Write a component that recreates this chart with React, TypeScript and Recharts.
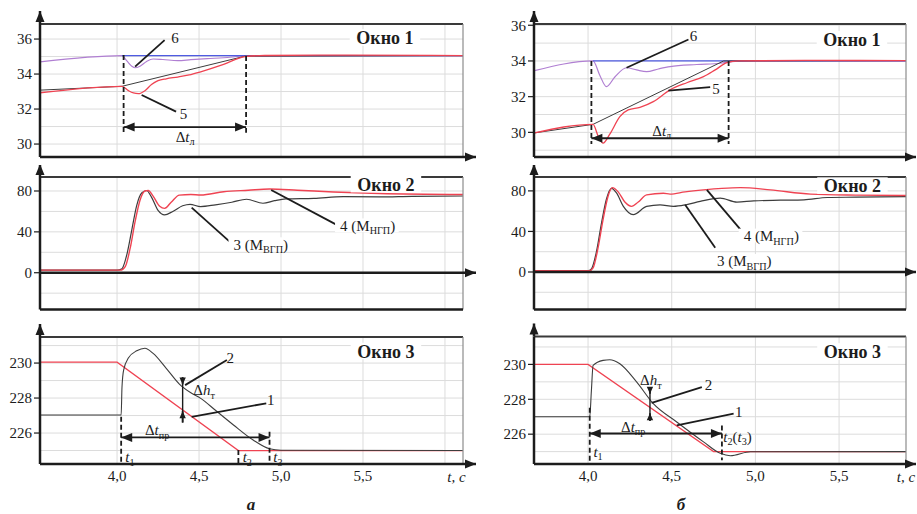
import React from "react";
import { CartesianGrid, Line, LineChart, ReferenceLine, XAxis, YAxis } from "recharts";

type Pt = [number, number];
type Part = { s: string; i?: boolean; sub?: boolean };

const SERIF = '"Liberation Serif", "DejaVu Serif", serif';
const INK = "#1c1c1c";
const RED = "#ef4352";
const DARK = "#3d3d3d";
const PURPLE = "#b07fd2";
const BLUE = "#4f5be2";

// tick labels and grid values
const timeTicks = [4, 4.5, 5, 5.5];
const gridTimeA = [4, 4.5, 5, 5.5, 6];
const gridTimeB = [4, 4.5, 5, 5.5];
const ticksWin1 = [30, 32, 34, 36];
const ticksWin2 = [0, 40, 80];
const ticksWin3 = [226, 228, 230];
const gridWin1A = [30, 31, 32, 33, 34, 35, 36];
const gridWin1B = [29, 30, 31, 32, 33, 34, 35, 36];
const gridWin2 = [-20, 0, 20, 40, 60, 80];
const gridWin3 = [225, 226, 227, 228, 229, 230, 231];

// ---- а : Окно 1 ----
const a1Purple: Pt[] = [[3.53, 34.69], [4.03, 35.05], [4.06, 34.75], [4.09, 34.45], [4.11, 34.36], [4.14, 34.45], [4.18, 34.72], [4.22, 34.86], [4.28, 34.83], [4.37, 34.77], [4.45, 34.82], [4.55, 34.88], [4.65, 34.93], [4.79, 35.03], [5.2, 35.05], [6.11, 35.05]];
const a1Blue: Pt[] = [[4.03, 35.05], [6.11, 35.05]];
const a1Black: Pt[] = [[3.53, 33.08], [4.03, 33.3], [4.78, 35.02], [6.11, 35.05]];
const a1Red: Pt[] = [[3.53, 32.93], [4.03, 33.3], [4.07, 33.05], [4.1, 32.92], [4.13, 32.88], [4.17, 33.05], [4.21, 33.4], [4.25, 33.62], [4.3, 33.73], [4.37, 33.83], [4.44, 33.95], [4.51, 34.13], [4.65, 34.55], [4.78, 35.0], [4.9, 35.06], [5.4, 35.08], [6.11, 35.05]];

// ---- а : Окно 2 ----
const a2Black: Pt[] = [[3.53, 2.5], [4.0, 2.5], [4.03, 4], [4.06, 18], [4.09, 42], [4.12, 66], [4.15, 78], [4.18, 80.5], [4.21, 74], [4.25, 61], [4.29, 56.6], [4.34, 60], [4.4, 65.5], [4.445, 67], [4.51, 64.7], [4.6, 66.5], [4.7, 69], [4.79, 71.9], [4.89, 68], [4.96, 70.5], [5.03, 72.2], [5.2, 72.8], [5.38, 74.4], [5.6, 74.2], [5.8, 74.8], [6.11, 75.1]];
const a2Red: Pt[] = [[3.53, 2.5], [4.02, 2.5], [4.05, 6], [4.08, 24], [4.11, 50], [4.14, 71], [4.17, 80], [4.19, 80.5], [4.22, 75], [4.26, 65], [4.29, 63], [4.33, 69], [4.38, 76], [4.45, 76.5], [4.51, 76.1], [4.65, 79.3], [4.8, 80.8], [4.93, 82], [5.1, 80.8], [5.32, 79], [5.6, 77.5], [6.11, 76.5]];

// ---- а : Окно 3 ----
const a3Red: Pt[] = [[3.53, 230.05], [4.0, 230.05], [4.74, 225.0], [6.11, 225.0]];
const a3Black: Pt[] = [[3.53, 227.03], [4.025, 227.03], [4.03, 228.6], [4.04, 229.6], [4.07, 230.3], [4.12, 230.7], [4.17, 230.85], [4.22, 230.55], [4.3, 229.7], [4.38, 228.8], [4.45, 228.3], [4.51, 227.98], [4.6, 227.3], [4.71, 226.46], [4.83, 225.6], [4.93, 225.1], [5.0, 225.02], [6.11, 225.0]];

// ---- б : Окно 1 ----
const b1Purple: Pt[] = [[3.68, 33.46], [4.03, 34.0], [4.07, 33.2], [4.11, 32.56], [4.16, 33.1], [4.23, 33.62], [4.29, 33.5], [4.35, 33.4], [4.42, 33.55], [4.49, 33.68], [4.65, 33.8], [4.79, 33.87], [4.88, 33.98], [5.0, 34.0], [5.9, 34.0]];
const b1Blue: Pt[] = [[4.03, 34.0], [5.9, 34.0]];
const b1Black: Pt[] = [[3.68, 29.97], [4.03, 30.45], [4.81, 34.0], [5.9, 34.02]];
const b1Red: Pt[] = [[3.68, 29.97], [4.03, 30.45], [4.06, 29.8], [4.09, 29.4], [4.13, 29.9], [4.19, 30.88], [4.24, 31.26], [4.31, 31.4], [4.39, 31.72], [4.49, 32.38], [4.59, 32.78], [4.69, 33.12], [4.76, 33.5], [4.83, 33.9], [4.9, 34.0], [5.3, 34.03], [5.9, 34.02]];

// ---- б : Окно 2 ----
const b2Black: Pt[] = [[3.68, 1.3], [4.0, 1.3], [4.02, 3], [4.05, 20], [4.08, 48], [4.11, 72], [4.14, 82.5], [4.17, 78], [4.21, 65], [4.27, 56.6], [4.35, 64.7], [4.43, 66.3], [4.51, 64.7], [4.59, 66.5], [4.67, 69.6], [4.79, 72.9], [4.89, 69], [4.99, 70.2], [5.15, 70.8], [5.29, 71.2], [5.43, 73.5], [5.6, 73.8], [5.9, 74.4]];
const b2Red: Pt[] = [[3.68, 1.3], [4.01, 1.3], [4.03, 4], [4.06, 24], [4.09, 52], [4.12, 75], [4.145, 83.2], [4.18, 79], [4.22, 69], [4.26, 64.7], [4.3, 69], [4.35, 76.1], [4.45, 77.7], [4.49, 76.8], [4.58, 79], [4.69, 81], [4.8, 82.5], [4.91, 83.2], [5.09, 81], [5.33, 76.8], [5.6, 75.8], [5.9, 75.4]];

// ---- б : Окно 3 ----
const b3Red: Pt[] = [[3.68, 230.0], [4.0, 230.0], [4.75, 225.0], [5.9, 225.0]];
const b3Black: Pt[] = [[3.68, 227.0], [4.01, 227.0], [4.02, 228.5], [4.03, 229.94], [4.09, 230.23], [4.13, 230.27], [4.19, 230.04], [4.29, 229.0], [4.39, 227.75], [4.53, 226.7], [4.69, 225.56], [4.79, 224.9], [4.85, 224.76], [4.97, 224.99], [5.9, 225.0]];

// label texts
const dtL: Part[] = [{ s: "Δ" }, { s: "t", i: true }, { s: "л", sub: true }];
const dtPr: Part[] = [{ s: "Δ" }, { s: "t", i: true }, { s: "пр", sub: true }];
const dhT: Part[] = [{ s: "Δ" }, { s: "h", i: true }, { s: "т", sub: true }];
const mV: Part[] = [{ s: "3 (M" }, { s: "ВГП", sub: true }, { s: ")" }];
const mN: Part[] = [{ s: "4 (M" }, { s: "НГП", sub: true }, { s: ")" }];
const t1: Part[] = [{ s: "t", i: true }, { s: "1", sub: true }];
const t2: Part[] = [{ s: "t", i: true }, { s: "2", sub: true }];
const t3: Part[] = [{ s: "t", i: true }, { s: "3", sub: true }];
const t2t3: Part[] = [{ s: "t", i: true }, { s: "2", sub: true }, { s: "(" }, { s: "t", i: true }, { s: "3", sub: true }, { s: ")" }];
const tUnit: Part[] = [{ s: "t, c", i: true }];
const plain = (s: string): Part[] => [{ s }];

type Note =
  | { kind: "line"; a: Pt; b: Pt; dash?: boolean; heads?: "a" | "b" | "ab"; w?: number; small?: boolean }
  | { kind: "text"; at: Pt; parts: Part[]; anchor?: "start" | "middle"; box?: boolean; bold?: boolean; size?: number; dy?: number };

const notes1a: Note[] = [
  { kind: "line", a: [4.29, 35.94], b: [4.11, 34.42] },
  { kind: "text", at: [4.354, 36.07], parts: plain("6") },
  { kind: "line", a: [4.15, 32.8], b: [4.36, 31.85] },
  { kind: "text", at: [4.405, 31.71], parts: plain("5") },
  { kind: "line", a: [4.04, 35.09], b: [4.04, 30.65], dash: true },
  { kind: "line", a: [4.787, 35.03], b: [4.787, 30.65], dash: true },
  { kind: "line", a: [4.04, 30.97], b: [4.787, 30.97], heads: "ab" },
  { kind: "text", at: [4.415, 30.43], parts: dtL },
  { kind: "text", at: [5.634, 36.05], parts: plain("Окно 1"), bold: true, box: true },
];

const notes2a: Note[] = [
  { kind: "line", a: [4.455, 63.7], b: [4.69, 30] },
  { kind: "text", at: [4.71, 27.3], parts: mV, anchor: "start", box: true },
  { kind: "line", a: [4.94, 81], b: [5.34, 46.8] },
  { kind: "text", at: [5.36, 45.8], parts: mN, anchor: "start", box: true },
  { kind: "text", at: [5.64, 86], parts: plain("Окно 2"), bold: true, box: true },
];

const notes3a: Note[] = [
  { kind: "line", a: [4.025, 226.93], b: [4.025, 224.23], dash: true },
  { kind: "text", at: [4.05, 224.63], parts: t1, anchor: "start" },
  { kind: "line", a: [4.74, 225.03], b: [4.74, 224.23], dash: true },
  { kind: "text", at: [4.766, 224.63], parts: t2, anchor: "start" },
  { kind: "line", a: [4.93, 226.07], b: [4.93, 224.23], dash: true },
  { kind: "text", at: [4.953, 224.63], parts: t3, anchor: "start" },
  { kind: "line", a: [4.025, 225.75], b: [4.93, 225.75], heads: "ab" },
  { kind: "text", at: [4.244, 226.17], parts: dtPr },
  { kind: "line", a: [4.4, 229.15], b: [4.4, 226.6], w: 1.4 },
  { kind: "line", a: [4.4, 229.2], b: [4.4, 228.78], heads: "b", small: true },
  { kind: "line", a: [4.4, 226.6], b: [4.4, 227.25], heads: "b", small: true },
  { kind: "text", at: [4.465, 228.45], parts: dhT, anchor: "start" },
  { kind: "line", a: [4.67, 230.17], b: [4.415, 228.74] },
  { kind: "text", at: [4.69, 230.31], parts: plain("2") },
  { kind: "line", a: [4.91, 227.7], b: [4.455, 226.93] },
  { kind: "text", at: [4.937, 227.89], parts: plain("1") },
  { kind: "text", at: [5.64, 230.65], parts: plain("Окно 3"), bold: true, box: true },
  { kind: "text", at: [6.07, 224.23], parts: tUnit, dy: 13 },
];

const notes1b: Note[] = [
  { kind: "line", a: [4.6, 35.2], b: [4.23, 33.62] },
  { kind: "text", at: [4.63, 35.4], parts: plain("6") },
  { kind: "line", a: [4.73, 32.53], b: [4.48, 32.34] },
  { kind: "text", at: [4.765, 32.41], parts: plain("5") },
  { kind: "line", a: [4.02, 34.0], b: [4.02, 29.35], dash: true },
  { kind: "line", a: [4.84, 34.0], b: [4.84, 29.35], dash: true },
  { kind: "line", a: [4.02, 29.67], b: [4.84, 29.67], heads: "ab" },
  { kind: "text", at: [4.44, 30.09], parts: dtL },
  { kind: "text", at: [5.577, 35.18], parts: plain("Окно 1"), bold: true, box: true },
];

const notes2b: Note[] = [
  { kind: "line", a: [4.71, 81], b: [4.91, 42] },
  { kind: "text", at: [4.93, 35.4], parts: mN, anchor: "start", box: true },
  { kind: "line", a: [4.58, 66.3], b: [4.76, 24] },
  { kind: "text", at: [4.77, 10.4], parts: mV, anchor: "start", box: true },
  { kind: "text", at: [5.58, 84.5], parts: plain("Окно 2"), bold: true, box: true },
];

const notes3b: Note[] = [
  { kind: "line", a: [4.01, 227.52], b: [4.01, 224.29], dash: true },
  { kind: "text", at: [4.032, 224.99], parts: t1, anchor: "start" },
  { kind: "line", a: [4.8, 226.5], b: [4.8, 224.5], dash: true },
  { kind: "text", at: [4.808, 225.84], parts: t2t3, anchor: "start" },
  { kind: "line", a: [4.01, 226.04], b: [4.8, 226.04], heads: "ab" },
  { kind: "text", at: [4.27, 226.42], parts: dtPr },
  { kind: "line", a: [4.37, 228.62], b: [4.37, 226.8], w: 1.4 },
  { kind: "line", a: [4.37, 228.7], b: [4.37, 228.32], heads: "b", small: true },
  { kind: "line", a: [4.37, 226.75], b: [4.37, 227.2], heads: "b", small: true },
  { kind: "text", at: [4.375, 229.09], parts: dhT },
  { kind: "line", a: [4.68, 228.7], b: [4.38, 227.79] },
  { kind: "text", at: [4.72, 228.84], parts: plain("2") },
  { kind: "line", a: [4.87, 227.18], b: [4.53, 226.51] },
  { kind: "text", at: [4.9, 227.27], parts: plain("1") },
  { kind: "text", at: [5.58, 230.7], parts: plain("Окно 3"), bold: true, box: true },
  { kind: "text", at: [5.9, 224.29], parts: tUnit, dy: 13 },
];

type Series = { pts: Pt[]; color: string; width: number; curve: "monotone" | "linear" };

interface PanelSpec {
  left: number;
  top: number;
  width: number;
  height: number;
  mTop: number;
  mRight: number;
  mBottom: number;
  yAxisW: number;
  xDomain: [number, number];
  yDomain: [number, number];
  yTicks: number[];
  gridY: number[];
  gridX: number[];
  series: Series[];
  notes: Note[];
  xArrowAt: number;
  arrowPx: number;
  zeroLine?: boolean;
  timeAxis?: boolean;
}

const AXIS_H = 30;
const colA = { left: 0, width: 480, mRight: 17, yAxisW: 40, xDomain: [3.53, 6.11] as [number, number], gridX: gridTimeA, arrowPx: 13 };
const colB = { left: 480, width: 437, mRight: 11, yAxisW: 54, xDomain: [3.677, 5.9] as [number, number], gridX: gridTimeB, arrowPx: 10 };
const row1 = { top: 0, height: 165, mTop: 24, mBottom: 8 };
const row2 = { top: 165, height: 150, mTop: 12, mBottom: 5.5 };
const row3 = { top: 322, height: 192, mTop: 15, mBottom: 20, timeAxis: true };

const panels: PanelSpec[] = [
  {
    ...colA, ...row1, yDomain: [29.26, 36.86], yTicks: ticksWin1, gridY: gridWin1A, xArrowAt: 29.26, notes: notes1a,
    series: [
      { pts: a1Purple, color: PURPLE, width: 1.2, curve: "monotone" },
      { pts: a1Blue, color: BLUE, width: 1.2, curve: "linear" },
      { pts: a1Black, color: DARK, width: 1, curve: "linear" },
      { pts: a1Red, color: RED, width: 1.3, curve: "monotone" },
    ],
  },
  {
    ...colA, ...row2, yDomain: [-36, 93.7], yTicks: ticksWin2, gridY: gridWin2, xArrowAt: 0, zeroLine: true, notes: notes2a,
    series: [
      { pts: a2Black, color: DARK, width: 1.2, curve: "monotone" },
      { pts: a2Red, color: RED, width: 1.4, curve: "monotone" },
    ],
  },
  {
    ...colA, ...row3, yDomain: [224.23, 231.49], yTicks: ticksWin3, gridY: gridWin3, xArrowAt: 224.23, notes: notes3a,
    series: [
      { pts: a3Red, color: RED, width: 1.2, curve: "linear" },
      { pts: a3Black, color: DARK, width: 1.1, curve: "monotone" },
    ],
  },
  {
    ...colB, ...row1, yDomain: [28.62, 36.07], yTicks: ticksWin1, gridY: gridWin1B, xArrowAt: 28.62, notes: notes1b,
    series: [
      { pts: b1Purple, color: PURPLE, width: 1.2, curve: "monotone" },
      { pts: b1Blue, color: BLUE, width: 1.2, curve: "linear" },
      { pts: b1Black, color: DARK, width: 1, curve: "linear" },
      { pts: b1Red, color: RED, width: 1.3, curve: "monotone" },
    ],
  },
  {
    ...colB, ...row2, yDomain: [-37, 93.7], yTicks: ticksWin2, gridY: gridWin2, xArrowAt: 0, zeroLine: true, notes: notes2b,
    series: [
      { pts: b2Black, color: DARK, width: 1.2, curve: "monotone" },
      { pts: b2Red, color: RED, width: 1.4, curve: "monotone" },
    ],
  },
  {
    ...colB, ...row3, mTop: 14.5, yDomain: [224.29, 231.6], yTicks: ticksWin3, gridY: gridWin3, xArrowAt: 224.29, notes: notes3b,
    series: [
      { pts: b3Red, color: RED, width: 1.2, curve: "linear" },
      { pts: b3Black, color: DARK, width: 1.1, curve: "monotone" },
    ],
  },
];

function head(tx: number, ty: number, fx: number, fy: number, len: number, half: number) {
  const L = Math.hypot(tx - fx, ty - fy) || 1;
  const ux = (tx - fx) / L;
  const uy = (ty - fy) / L;
  const bx = tx - ux * len;
  const by = ty - uy * len;
  return (
    <polygon
      points={`${tx},${ty} ${bx - uy * half},${by + ux * half} ${bx + uy * half},${by - ux * half}`}
      fill={INK}
    />
  );
}

function richText(parts: Part[], x: number, y: number, size: number, anchor: string, bold?: boolean) {
  let low = false;
  return (
    <text x={x} y={y} fill={INK} textAnchor={anchor} dominantBaseline="central"
      style={{ fontFamily: SERIF, fontSize: size, fontWeight: bold ? 700 : 400 }}>
      {parts.map((p, k) => {
        const dy = p.sub && !low ? size * 0.3 : !p.sub && low ? -size * 0.3 : 0;
        low = !!p.sub;
        return (
          <tspan key={k} dy={dy} style={{ fontStyle: p.i ? "italic" : "normal", fontSize: p.sub ? size * 0.68 : size }}>
            {p.s}
          </tspan>
        );
      })}
    </text>
  );
}

function textWidth(parts: Part[], size: number, bold?: boolean) {
  const f = bold ? 0.56 : 0.5;
  return parts.reduce((w, p) => w + p.s.length * f * (p.sub ? size * 0.72 : size), 0);
}

function renderNote(n: Note, key: string) {
  if (n.kind === "line") {
    const w = n.w ?? 1.8;
    const len = n.small ? 7 : 11;
    const half = n.small ? 3.2 : 4.5;
    return (
      <ReferenceLine
        key={key}
        ifOverflow="visible"
        segment={[{ x: n.a[0], y: n.a[1] }, { x: n.b[0], y: n.b[1] }]}
        shape={(p: any) => (
          <g>
            <line x1={p.x1} y1={p.y1} x2={p.x2} y2={p.y2} stroke={INK} strokeWidth={w}
              strokeDasharray={n.dash ? "5 3" : undefined} />
            {n.heads && n.heads.includes("b") && head(p.x2, p.y2, p.x1, p.y1, len, half)}
            {n.heads && n.heads.includes("a") && head(p.x1, p.y1, p.x2, p.y2, len, half)}
          </g>
        )}
      />
    );
  }
  const size = n.size ?? (n.bold ? 18 : 15);
  const anchor = n.anchor ?? "middle";
  return (
    <ReferenceLine
      key={key}
      ifOverflow="visible"
      segment={[{ x: n.at[0], y: n.at[1] }, { x: n.at[0], y: n.at[1] }]}
      shape={(p: any) => {
        const w = textWidth(n.parts, size, n.bold);
        const y = p.y1 + (n.dy ?? 0);
        const x0 = anchor === "middle" ? p.x1 - w / 2 : p.x1;
        return (
          <g>
            {n.box && <rect x={x0 - 5} y={y - size * 0.5} width={w + 10} height={size * 0.92} fill="#fff" />}
            {richText(n.parts, p.x1, y, size, anchor, n.bold)}
          </g>
        );
      }}
    />
  );
}

function Panel({ s }: { s: PanelSpec }) {
  const [x0, x1] = s.xDomain;
  const [y0, y1] = s.yDomain;
  const plotW = s.width - s.yAxisW - s.mRight;
  const plotH = s.height - s.mTop - s.mBottom - (s.timeAxis ? AXIS_H : 0);
  const xPerPx = (x1 - x0) / plotW;
  const yPerPx = (y1 - y0) / plotH;
  const axisNotes: Note[] = [
    { kind: "line", a: [x0, y1], b: [x0, y1 + 13 * yPerPx], heads: "b", w: 2.5 },
    { kind: "line", a: [x1, s.xArrowAt], b: [x1 + s.arrowPx * xPerPx, s.xArrowAt], heads: "b", w: 2.5 },
  ];
  const tickStyle = { fontSize: 15, fill: INK, fontFamily: SERIF, style: { fontFamily: SERIF } };
  return (
    <div style={{ position: "absolute", left: s.left, top: s.top, fontFamily: SERIF }}>
      <LineChart width={s.width} height={s.height}
        margin={{ top: s.mTop, right: s.mRight, bottom: s.mBottom, left: 0 }}>
        <CartesianGrid stroke="#dcdcdc" strokeWidth={1} horizontalValues={s.gridY} verticalValues={s.gridX} />
        <XAxis dataKey="t" type="number" domain={s.xDomain} allowDataOverflow hide={!s.timeAxis}
          ticks={timeTicks} interval={0} height={AXIS_H} axisLine={false} tickLine={false} tickSize={4}
          tickFormatter={(v: number) => v.toFixed(1).replace(".", ",")}
          tick={tickStyle} />
        <YAxis type="number" domain={s.yDomain} allowDataOverflow ticks={s.yTicks} interval={0}
          width={s.yAxisW} tick={tickStyle}
          tickLine={{ stroke: INK, strokeWidth: 1.2 }} axisLine={{ stroke: INK, strokeWidth: 2.5 }} />
        {s.series.map((ser, i) => (
          <Line key={i} data={ser.pts.map(([t, v]) => ({ t, v }))} dataKey="v" type={ser.curve}
            stroke={ser.color} strokeWidth={ser.width} dot={false} activeDot={false}
            isAnimationActive={false} />
        ))}
        <ReferenceLine y={y1} stroke="#3a3a3a" strokeWidth={2} ifOverflow="visible" />
        <ReferenceLine x={x1} stroke="#8c8c8c" strokeWidth={1.2} ifOverflow="visible" />
        <ReferenceLine y={y0} stroke={INK} strokeWidth={2.5} ifOverflow="visible" />
        {s.zeroLine && <ReferenceLine y={0} stroke={INK} strokeWidth={2.5} ifOverflow="visible" />}
        {axisNotes.map((n, i) => renderNote(n, "ax" + i))}
        {s.notes.map((n, i) => renderNote(n, "n" + i))}
      </LineChart>
    </div>
  );
}

const captionStyle: React.CSSProperties = {
  position: "absolute",
  top: 495,
  fontFamily: SERIF,
  fontSize: 17,
  fontWeight: "bold",
  fontStyle: "italic",
  color: INK,
  transform: "translateX(-50%)",
};

export default function App() {
  return (
    <div style={{ position: "absolute", left: 0, top: 0, width: 917, height: 514, background: "#fff", overflow: "hidden", fontFamily: SERIF }}>
      {panels.map((s, i) => (
        <Panel key={i} s={s} />
      ))}
      <div style={{ ...captionStyle, left: 251 }}>а</div>
      <div style={{ ...captionStyle, left: 681 }}>б</div>
    </div>
  );
}
